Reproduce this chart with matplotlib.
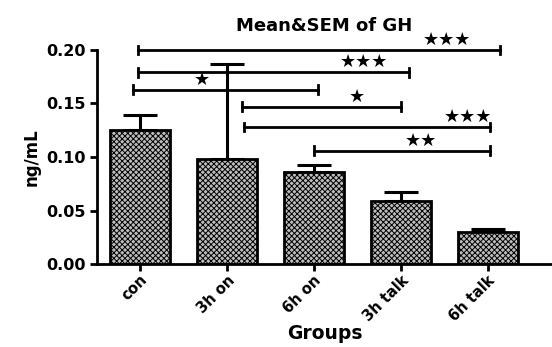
import numpy as np
import matplotlib.pyplot as plt

# ---------------------------------------------- data
groups = ["con", "3h on", "6h on", "3h talk", "6h talk"]
means = [0.125, 0.098, 0.086, 0.059, 0.030]
sems = [0.014, 0.089, 0.007, 0.008, 0.003]

# significance brackets: (start, end, height, label, label x)
br_start = [-0.02, -0.02, -0.08, 1.17, 1.20, 2.00]
br_end = [4.14, 3.10, 2.05, 3.00, 4.03, 4.03]
br_y = [0.200, 0.179, 0.163, 0.147, 0.128, 0.106]
br_text = ["★★★", "★★★", "★", "★", "★★★", "★★"]
br_tx = [3.25, 2.30, 0.62, 2.40, 3.50, 3.05]

plt.rcParams['font.family'] = ['DejaVu Sans']
plt.rcParams['hatch.color'] = '#333333'
plt.rcParams['hatch.linewidth'] = 0.7

fig = plt.figure(figsize=(5.52, 3.47), dpi=100)
ax = fig.add_axes([0.176, 0.239, 0.824, 0.617])

x = np.arange(len(groups))
ax.bar(x, means, width=0.69, color='#bdbdbd', edgecolor='black',
       linewidth=2, hatch='xxxxxx', zorder=2)
ax.errorbar(x, means, yerr=[np.zeros(len(sems)), sems], fmt='none',
            ecolor='black', elinewidth=2.2, capsize=12, capthick=2.2, zorder=1)

# brackets
for s, e, y, t, tx in zip(br_start, br_end, br_y, br_text, br_tx):
    ax.plot([s, e], [y, y], color='black', lw=2, clip_on=False)
    ax.plot([s, s], [y - 0.004, y + 0.004], color='black', lw=2, clip_on=False)
    ax.plot([e, e], [y - 0.004, y + 0.004], color='black', lw=2, clip_on=False)
    ax.text(tx, y + 0.001, t, fontsize=13, ha='left', va='bottom', clip_on=False)

ax.set_xlim(-0.49, 4.74)
ax.set_ylim(0, 0.2)
ax.set_yticks([0, 0.05, 0.10, 0.15, 0.20])
ax.set_yticklabels(["0.00", "0.05", "0.10", "0.15", "0.20"], fontweight='bold', fontsize=11.5)
ax.set_xticks(x)
ax.set_xticklabels(groups, rotation=45, ha='right', rotation_mode='anchor',
                   fontweight='bold', fontsize=10.5)
ax.tick_params(width=2, length=5)
ax.tick_params(axis='x', pad=1)

for side in ['top', 'right']:
    ax.spines[side].set_visible(False)
for side in ['left', 'bottom']:
    ax.spines[side].set_linewidth(2)

ax.set_title("Mean&SEM of GH", fontweight='bold', fontsize=13, pad=14)
ax.set_ylabel("ng/mL", fontweight='bold', fontsize=12)
ax.set_xlabel("Groups", fontweight='bold', fontsize=13.5, labelpad=0)

fig.savefig("out.png", dpi=100)
